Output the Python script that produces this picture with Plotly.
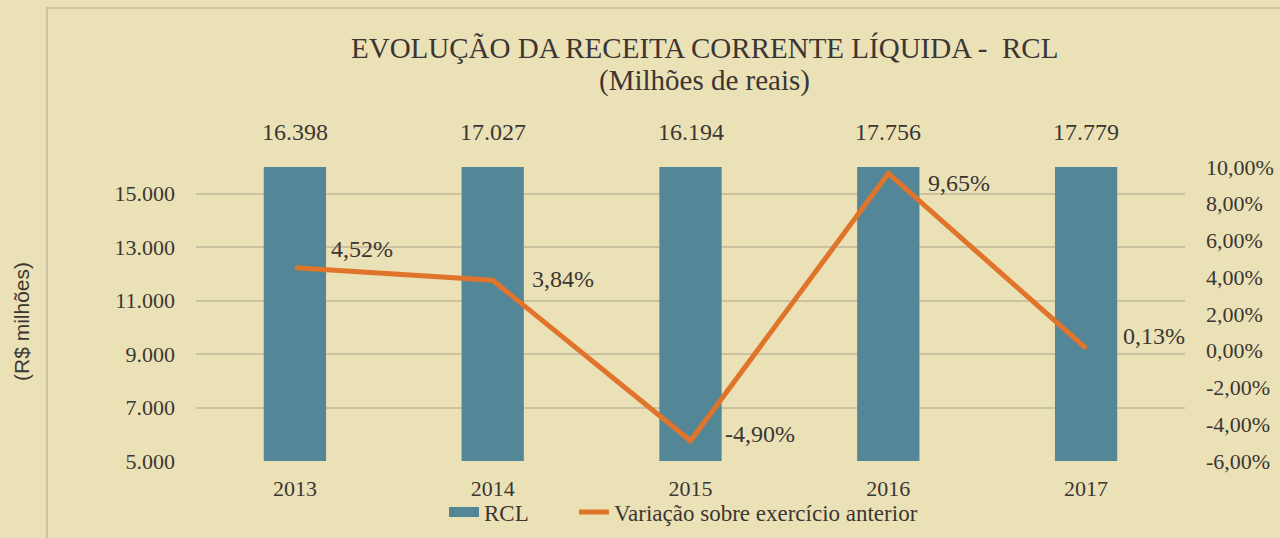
import plotly.graph_objects as go

years = ["2013", "2014", "2015", "2016", "2017"]
rcl = [16398, 17027, 16194, 17756, 17779]
variacao = [4.52, 3.84, -4.90, 9.65, 0.13]
left_ticks = [5000, 7000, 9000, 11000, 13000, 15000]
right_ticks = [-6, -4, -2, 0, 2, 4, 6, 8, 10]

BG = "#ebe1b7"
BAR = "#538798"
LINE = "#e0742a"
TXT = "#3b3632"
GRID = "#cbc2a2"
SERIF = "Liberation Serif, Times New Roman, serif"

W, H = 1280, 538
L, R, T, B = 196, 95, 167, 77
pw, ph = W - L - R, H - T - B

def px_x(p):
    return (p - L) / pw

def px_y(p):
    return (H - B - p) / ph

def br_int(v):
    return f"{v:,}".replace(",", ".")

def br_pct(v):
    return f"{v:.2f}%".replace(".", ",")

ymax = 16000

fig = go.Figure()
fig.add_trace(go.Bar(
    x=years, y=rcl, name="RCL", marker=dict(color=BAR, line=dict(width=0)),
    yaxis="y", showlegend=False))
# legend proxy for the bars (wide rectangle swatch)
fig.add_trace(go.Scatter(
    x=[None], y=[None], name="RCL" + "\u00a0" * 7, mode="lines",
    line=dict(color=BAR, width=14), yaxis="y"))
fig.add_trace(go.Scatter(
    x=years, y=variacao, name="Variação sobre exercício anterior", mode="lines",
    line=dict(color=LINE, width=5), yaxis="y2"))

# value labels above the (clipped) bars
for i, v in enumerate(rcl):
    fig.add_annotation(x=i, y=ymax, xref="x", yref="y", text=br_int(v), showarrow=False,
                       xanchor="center", yanchor="middle", yshift=35,
                       font=dict(family=SERIF, size=24, color=TXT))

shifts = [(34, 19), (37, 1), (32, 7), (38, -10), (35, 12)]
for i, (v, (dx, dy)) in enumerate(zip(variacao, shifts)):
    fig.add_annotation(x=i, y=v, yref="y2", xref="x",
                       text=br_pct(v), showarrow=False,
                       xanchor="left", yanchor="middle", xshift=dx, yshift=dy,
                       font=dict(family=SERIF, size=24, color=TXT))

# title
fig.add_annotation(x=px_x(704), y=px_y(48), xref="paper", yref="paper",
                   xanchor="center", yanchor="middle",
                   text="EVOLUÇÃO DA RECEITA CORRENTE LÍQUIDA -  RCL", showarrow=False,
                   font=dict(family=SERIF, size=29, color=TXT))
fig.add_annotation(x=px_x(704), y=px_y(81), xref="paper", yref="paper",
                   xanchor="center", yanchor="middle",
                   text="(Milhões de reais)", showarrow=False,
                   font=dict(family=SERIF, size=29, color=TXT))
# y axis title
fig.add_annotation(x=px_x(21), y=px_y(322), xref="paper", yref="paper",
                   xanchor="center", yanchor="middle",
                   text="(R$ milhões)", showarrow=False, textangle=-90,
                   font=dict(family="Liberation Sans, Arial, sans-serif", size=21, color=TXT))

# border frame
fig.add_shape(type="rect", xref="paper", yref="paper",
              x0=px_x(47), y0=px_y(560), x1=px_x(1300), y1=px_y(8),
              line=dict(color="#cdc4a4", width=2), layer="below")

fig.update_layout(
    width=W, height=H,
    margin=dict(l=L, r=R, t=T, b=B, autoexpand=False),
    paper_bgcolor=BG, plot_bgcolor=BG,
    font=dict(family=SERIF, size=22, color=TXT),
    showlegend=True,
    legend=dict(orientation="h", xref="container", yref="container",
                x=444 / W, y=(H - 512) / H, xanchor="left", yanchor="middle",
                font=dict(family=SERIF, size=23, color=TXT), bgcolor="rgba(0,0,0,0)",
                traceorder="normal"),
    xaxis=dict(type="category", categoryorder="array", categoryarray=years,
               range=[-0.5, len(years) - 0.5], autorange=False, automargin=False,
               showgrid=False, showline=False, ticks="",
               tickfont=dict(size=22), ticklabelstandoff=12),
    yaxis=dict(range=[5000, ymax], tickvals=left_ticks, automargin=False,
               ticktext=[br_int(v) for v in left_ticks],
               showgrid=True, gridcolor=GRID, gridwidth=1.5, zeroline=False,
               showline=False, ticks="", ticklabelstandoff=20, tickfont=dict(size=22)),
    yaxis2=dict(range=[-6, 10], tickvals=right_ticks, automargin=False,
                ticktext=[br_pct(v) for v in right_ticks],
                overlaying="y", side="right", showgrid=False, zeroline=False,
                showline=False, ticks="", ticklabelstandoff=20, tickfont=dict(size=22)),
    bargap=0.685,
)

fig.write_html("out.html", config={"displayModeBar": False},
               post_script="document.body.style.margin='0';")
